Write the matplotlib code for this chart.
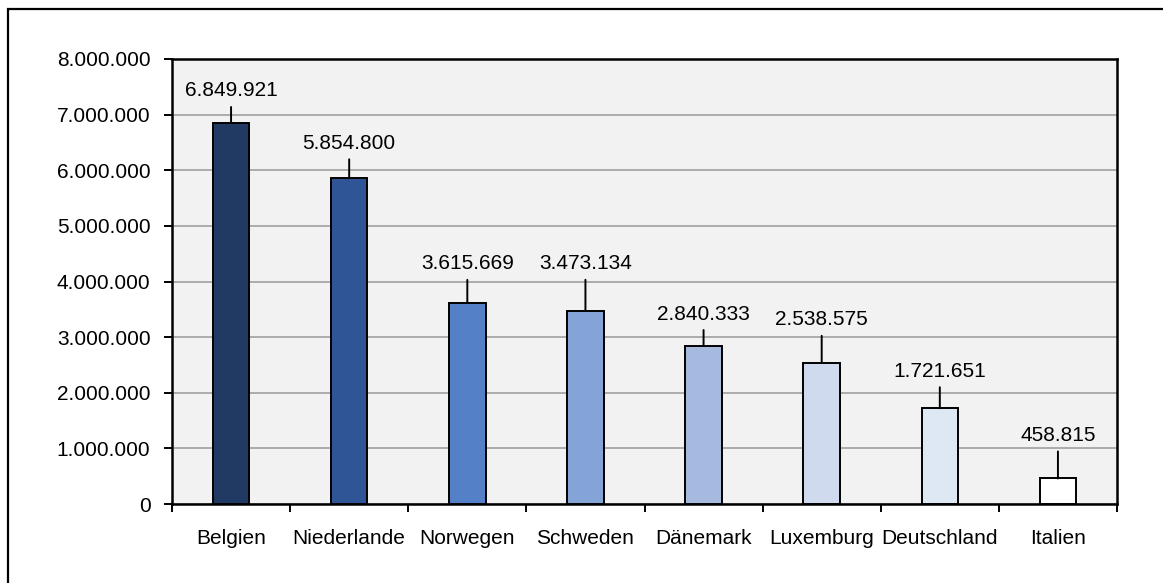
import matplotlib
matplotlib.use("Agg")
import matplotlib.pyplot as plt
from matplotlib.patches import Rectangle
from matplotlib.ticker import FuncFormatter, FixedLocator, NullFormatter

countries = ["Belgien", "Niederlande", "Norwegen", "Schweden", "Dänemark",
             "Luxemburg", "Deutschland", "Italien"]
values = [6849921, 5854800, 3615669, 3473134, 2840333, 2538575, 1721651, 458815]
bar_colors = ["#213a64", "#2f5597", "#5480c8", "#84a4d8", "#a6badf",
              "#cfdaee", "#dde8f4", "#ffffff"]
# leader line lengths in pixels (style)
leader_px = [16, 19, 23, 31, 16, 27, 21, 27]

W, H = 1163, 583
fig = plt.figure(figsize=(W / 100, H / 100), dpi=100)
plt.rcParams['font.family'] = ['Liberation Sans', 'DejaVu Sans']

# outer border (left and top visible)
fig.patches.append(Rectangle((8 / W, -0.1), 1.2, (H - 9) / H + 0.1,
                             transform=fig.transFigure, fill=False,
                             edgecolor="black", linewidth=1.6))

left, right, top, bottom = 172, 1117, 59, 504
ax = fig.add_axes([left / W, (H - bottom) / H, (right - left) / W, (bottom - top) / H])
ax.set_facecolor("#f2f2f2")

x = list(range(len(countries)))
ax.bar(x, values, width=0.31, color=bar_colors, edgecolor="black", linewidth=1.4, zorder=3)

ax.set_xlim(-0.5, len(countries) - 0.5)
ax.set_ylim(0, 8000000)
ax.set_yticks(range(0, 8000001, 1000000))
ax.yaxis.set_major_formatter(FuncFormatter(lambda v, p: f"{int(v):,}".replace(",", ".")))
ax.grid(axis="y", color="#a6a6a6", linewidth=1.3, zorder=0)
ax.set_axisbelow(True)

ax.set_xticks(x)
ax.set_xticklabels(countries)
ax.xaxis.set_minor_locator(FixedLocator([i - 0.5 for i in range(len(countries) + 1)]))
ax.xaxis.set_minor_formatter(NullFormatter())
ax.tick_params(axis="x", which="major", length=0, pad=18, labelsize=15)
ax.tick_params(axis="x", which="minor", length=6, width=1.4, direction="out")
ax.tick_params(axis="y", length=6, width=1.4, pad=9.5, labelsize=15)

for s in ax.spines.values():
    s.set_linewidth(1.8)
    s.set_color("black")

for xi, v, lp in zip(x, values, leader_px):
    ax.annotate("", xy=(xi, v), xytext=(0, lp), textcoords="offset pixels",
                arrowprops=dict(arrowstyle="-", color="black", linewidth=1.4,
                                shrinkA=0, shrinkB=0), zorder=4)
    ax.annotate(f"{v:,}".replace(",", "."), xy=(xi, v), xytext=(0, lp + 16),
                textcoords="offset pixels", ha="center", va="center",
                fontsize=15, zorder=5)

fig.savefig("out.png", dpi=100)
